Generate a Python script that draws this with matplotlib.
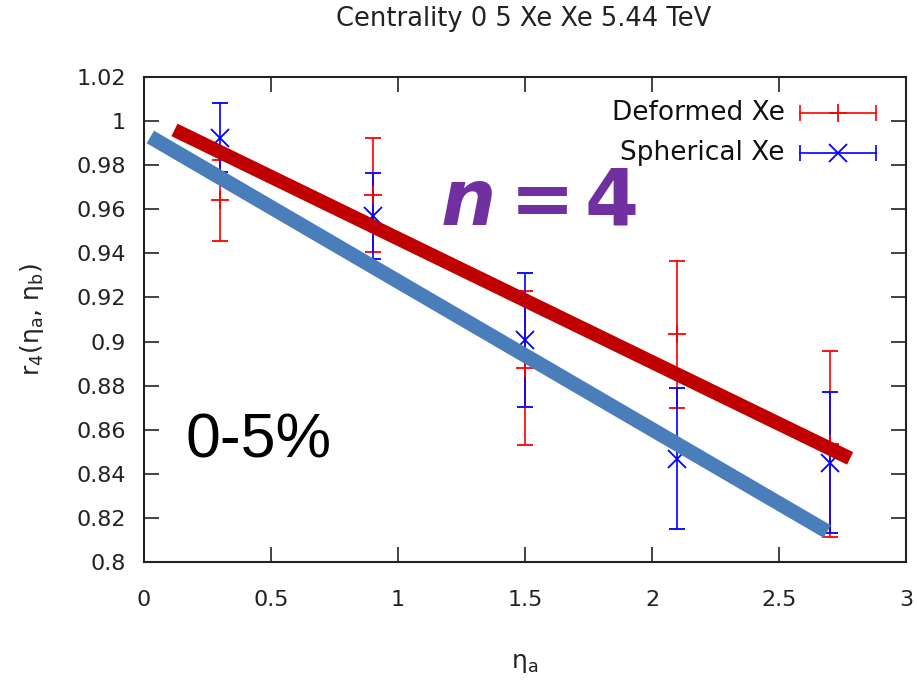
import matplotlib
matplotlib.use("Agg")

import matplotlib.pyplot as plt
import numpy as np

plt.rcParams["mathtext.default"] = "regular"

# --- data ---
eta_a = [0.3, 0.9, 1.5, 2.1, 2.7]
deformed = [0.964, 0.9665, 0.888, 0.9033, 0.8535]
deformed_err = [0.0185, 0.0257, 0.035, 0.0333, 0.042]
spherical = [0.9925, 0.957, 0.9007, 0.8468, 0.845]
spherical_err = [0.0157, 0.0195, 0.0306, 0.032, 0.032]

# thick guide lines drawn over the plot
red_line_x = [0.12, 2.78]
red_line_y = [0.996, 0.847]
blue_line_x = [0.025, 2.69]
blue_line_y = [0.9928, 0.8138]

xticks = [0, 0.5, 1, 1.5, 2, 2.5, 3]
yticks = [0.8, 0.82, 0.84, 0.86, 0.88, 0.9, 0.92, 0.94, 0.96, 0.98, 1.0, 1.02]
ytick_labels = ["0.8", "0.82", "0.84", "0.86", "0.88", "0.9", "0.92",
                "0.94", "0.96", "0.98", "1", "1.02"]

fig = plt.figure(figsize=(9.17, 6.8), dpi=100)
ax = fig.add_axes([144/917, 1-562/680, (906-144)/917, (562-77)/680])

# --- error bars ---
ax.errorbar(eta_a, deformed, yerr=deformed_err, fmt="+", color="red",
            ms=13, mew=1.3, elinewidth=1.2, capsize=5.5, capthick=1.2, zorder=2)
ax.errorbar(eta_a, spherical, yerr=spherical_err, fmt="x", color="blue",
            ms=13, mew=1.3, elinewidth=1.2, capsize=5.5, capthick=1.2, zorder=2)

# --- thick lines ---
ax.plot(red_line_x, red_line_y, color="#C00000", lw=10, solid_capstyle="butt", zorder=4)
ax.plot(blue_line_x, blue_line_y, color="#4A7EBB", lw=10.5, solid_capstyle="butt", zorder=3)

ax.set_xlim(0, 3)
ax.set_ylim(0.8, 1.02)
ax.set_xticks(xticks)
ax.set_xticklabels(["0", "0.5", "1", "1.5", "2", "2.5", "3"])
ax.set_yticks(yticks)
ax.set_yticklabels(ytick_labels)
ax.tick_params(direction="in", length=11, width=1.2, top=True, right=True,
               labelsize=16, colors="#222222")
ax.tick_params(axis="y", pad=13)
ax.tick_params(axis="x", pad=20)
for s in ax.spines.values():
    s.set_linewidth(1.5)
    s.set_color("#222222")

ax.set_xlabel("η$_a$", fontsize=18, labelpad=30, color="#222222")
ax.set_ylabel("r$_4$(η$_a$, η$_b$)", fontsize=18, labelpad=22, color="#222222")
fig.text(524/917, 1-19/680, "Centrality 0 5 Xe Xe 5.44 TeV", ha="center",
         va="center", fontsize=18.5, color="#222222")

# --- legend (gnuplot style: text left of sample) ---
leg_x0, leg_x1 = (800-144)/762, (876-144)/762
for label, col, mk, yy in [("Deformed Xe", "red", "+", (562-113)/485),
                           ("Spherical Xe", "blue", "x", (562-153)/485)]:
    ax.text((785-144)/762, yy, label, transform=ax.transAxes, ha="right",
            va="center", fontsize=19, color="#111111")
    ax.plot([leg_x0, leg_x1], [yy, yy], color=col, lw=1.2, transform=ax.transAxes)
    ax.plot([leg_x0, leg_x1], [yy, yy], "|", color=col, ms=11, mew=1.2,
            transform=ax.transAxes)
    ax.plot([(leg_x0+leg_x1)/2], [yy], mk, color=col, ms=13, mew=1.3,
            transform=ax.transAxes)

# --- annotations ---
purple = "#7030A0"
fig.text(441/917, 1-225/680, "n", fontsize=56, fontweight="bold",
         style="italic", color=purple, ha="left", va="baseline")
fig.text(510/917, 1-225/680, "=", fontsize=56, fontweight="bold",
         color=purple, ha="left", va="baseline")
fig.text(584/917, 1-225/680, "4", fontsize=56, fontweight="bold",
         color=purple, ha="left", va="baseline")
fig.text(186/917, 1-457/680, "0-5%", fontsize=45, family="Liberation Sans",
         color="black", ha="left", va="baseline")

fig.savefig("out.png", dpi=100)
